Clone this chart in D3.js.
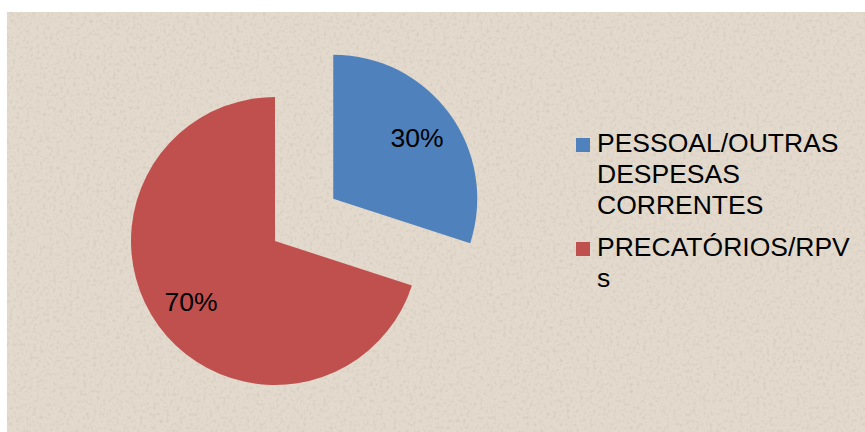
<!DOCTYPE html>
<html>
<head>
<meta charset="utf-8">
<script src="https://cdn.jsdelivr.net/npm/d3@7"></script>
<style>
  body { margin: 0; background: #fff; }
  svg { display: block; }
  text { font-family: "Liberation Sans", Arial, sans-serif; fill: #000; }
</style>
</head>
<body>
<svg id="chart"></svg>
<script>
// chart data
const categories = ['PESSOAL/OUTRAS DESPESAS CORRENTES', 'PRECATÓRIOS/RPVs'];
const shares = [30, 70];
const legendLines = [['PESSOAL/OUTRAS', 'DESPESAS', 'CORRENTES'], ['PRECATÓRIOS/RPV', 's']];
const colors = ['#4f81bd', '#c0504d'];
const exploded = [true, false];

const W = 865, H = 432;

const svg = d3.select('#chart')
    .attr('width', W)
    .attr('height', H);

/* paper-like background */
const defs = svg.append('defs');
const filter = defs.append('filter')
    .attr('id', 'paper')
    .attr('x', 0).attr('y', 0).attr('width', 1).attr('height', 1);
filter.append('feTurbulence')
    .attr('type', 'fractalNoise')
    .attr('baseFrequency', 0.3)
    .attr('numOctaves', 2)
    .attr('seed', 4)
    .attr('result', 'noise');
filter.append('feColorMatrix')
    .attr('in', 'noise')
    .attr('type', 'matrix')
    .attr('values', '0 0 0 0 0.55  0 0 0 0 0.50  0 0 0 0 0.43  0 0 0 -1.2 0.62')
    .attr('result', 'spots');
filter.append('feComposite')
    .attr('in', 'spots')
    .attr('in2', 'SourceGraphic')
    .attr('operator', 'in')
    .attr('result', 'spotsIn');
filter.append('feMerge').call(m => {
    m.append('feMergeNode').attr('in', 'SourceGraphic');
    m.append('feMergeNode').attr('in', 'spotsIn');
});

svg.append('rect')
    .attr('x', 7)
    .attr('y', 12)
    .attr('width', W - 7)
    .attr('height', H - 12)
    .attr('fill', '#e3dacd')
    .attr('filter', 'url(#paper)');

/* pie */
const radius = 144;
const cx = 275, cy = 241;
const explode = 72;

const data = categories.map((c, i) => ({category: c, value: shares[i], color: colors[i], exploded: exploded[i]}));

const pie = d3.pie()
    .sort(null)
    .value(d => d.value);

const arc = d3.arc()
    .innerRadius(0)
    .outerRadius(radius);

const labelArc = d3.arc()
    .innerRadius(radius * 0.72)
    .outerRadius(radius * 0.72);

const g = svg.append('g')
    .attr('transform', 'translate(' + cx + ',' + cy + ')');

const slices = g.selectAll('.slice')
    .data(pie(data))
    .enter().append('g')
    .attr('class', 'slice')
    .attr('transform', d => {
        if (!d.data.exploded) return null;
        const mid = (d.startAngle + d.endAngle) / 2;
        return 'translate(' + (Math.sin(mid) * explode) + ',' + (-Math.cos(mid) * explode) + ')';
    });

slices.append('path')
    .attr('d', arc)
    .attr('fill', d => d.data.color);

slices.append('text')
    .attr('transform', d => 'translate(' + labelArc.centroid(d) + ')')
    .attr('text-anchor', 'middle')
    .attr('dy', '0.36em')
    .style('font-size', '26.5px')
    .text(d => d.data.value + '%');

/* legend */
const legend = svg.append('g')
    .attr('transform', 'translate(576,0)');

const entryY = [138, 242];

const item = legend.selectAll('.legend')
    .data(data)
    .enter().append('g')
    .attr('class', 'legend')
    .attr('transform', (d, i) => 'translate(0,' + entryY[i] + ')');

item.append('rect')
    .attr('width', 14)
    .attr('height', 14)
    .attr('fill', d => d.color);

item.append('text')
    .attr('x', 21)
    .attr('y', 14)
    .style('font-size', '26.5px')
    .selectAll('tspan')
    .data((d, i) => legendLines[i])
    .enter().append('tspan')
    .attr('x', 21)
    .attr('dy', (d, j) => j === 0 ? 0 : 31)
    .text(d => d);
</script>
</body>
</html>
